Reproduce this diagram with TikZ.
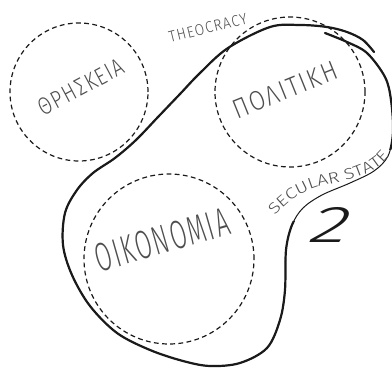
\documentclass[tikz,border=0pt]{standalone}
\usepackage{fontspec}
\usepackage{graphicx}
\usetikzlibrary{decorations.text}
\newfontfamily\labelfont{Fira Sans}[UprightFont={* Light}, LetterSpace=8]
\newfontfamily\curvefont{Fira Sans}[UprightFont={* Light}, FakeStretch=1.25]
\newfontfamily\twofont{Fira Sans}[UprightFont={* Light}, FakeSlant=0.25]
\definecolor{labelgray}{HTML}{4E4E4E}
\definecolor{ink}{HTML}{1A1A1A}

\tikzset{
  zone/.style={circle, draw=ink, dash pattern=on 4.8pt off 3.4pt, line width=1.2pt, inner sep=0pt},
  outline/.style={draw=ink, line width=2.2pt, line cap=round, line join=round},
  outline thin/.style={draw=ink, line width=1pt, line cap=round},
  word/.style={text=labelgray, inner sep=0pt}
}
\newcommand\blobpath{plot[smooth, tension=0.55] coordinates {(325,33) (347,42) (367,53) (385,77) (391,100) (393,132) (388,156) (374,171) (350,183) (322,195) (303,208) (292,225) (286,250) (285,290) (280,320) (267,348) (240,363) (210,366) (183,361) (150,350) (117,333) (90,306) (72,275) (63,245) (65,213) (77,190) (93,173) (115,158) (136,140) (158,117) (180,94) (200,73) (228,48) (270,27) (300,25) (327,27) (347,32) (363,40) (374,52)}}

\begin{document}
\begin{tikzpicture}[x=1pt, y=-1pt]
    \useasboundingbox (0,0) rectangle (392,369);

    \node[zone, minimum size=138pt] (thriskeia) at (79,92) {};
    \node[zone, minimum size=150pt] (politiki) at (290,92) {};
    \node[zone, minimum size=170pt] (oikonomia) at (169,259) {};

    \draw[outline thin] \blobpath;
    \begin{scope}
        \clip (-10,-10) -- (410,-10) -- (410,150) -- (289,150) -- (289,221) -- (410,221) -- (410,380) -- (-10,380) -- cycle;
        \draw[outline] \blobpath;
    \end{scope}

    \node[word, rotate=28] (thriskeia text) at (81,87) {\resizebox{94pt}{17pt}{\labelfont ΘΡΗΣΚΕΙΑ}};
    \node[word, rotate=22] (politiki text) at (285,90) {\resizebox{110pt}{19pt}{\labelfont ΠΟΛΙΤΙΚΗ}};
    \node[word, rotate=16] (oikonomia text) at (162,240) {\resizebox{138pt}{28pt}{\labelfont ΟΙΚΟΝΟΜΙΑ}};
    \node[word, rotate=14] (theocracy) at (208,28) {\resizebox{80pt}{11pt}{\labelfont THEOCRACY}};
    \node[inner sep=0pt, text=ink] (two) at (326,225) {\resizebox{38pt}{35pt}{\twofont 2}};

    \coordinate (secular start) at (275,216);
    \coordinate (secular end) at (389,156);
    \path[decorate, decoration={text along path, text align=fit to path,
        text={|\curvefont\fontsize{15.5}{16}\selectfont\color{labelgray}|SECULAR STATE}}]
        (secular start) .. controls (290,198) and (306,189) .. (330,184) .. controls (355,179) and (377,172) .. (secular end);
\end{tikzpicture}
\end{document}
